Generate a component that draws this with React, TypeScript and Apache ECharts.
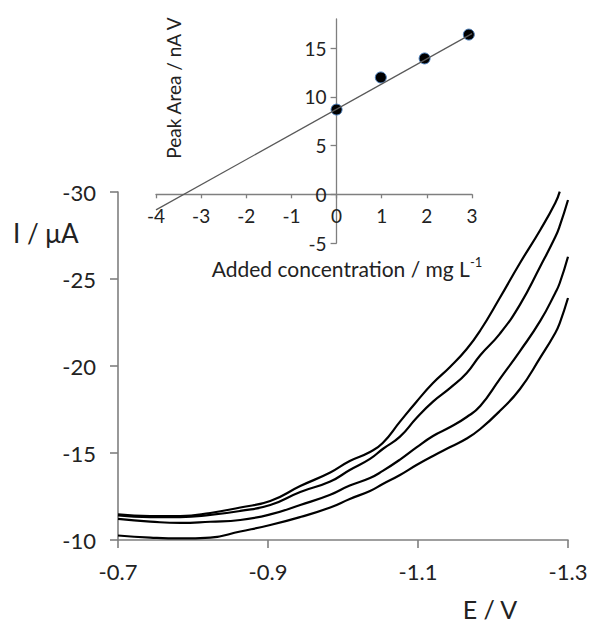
import React, { useEffect, useRef } from "react";
import * as echarts from "echarts";

// ---- Main voltammograms (E in V, I in µA) ----
const E_VALUES = [-0.700, -0.743, -0.783, -0.823, -0.863, -0.903, -0.943, -0.983, -1.009, -1.036, -1.053, -1.076, -1.098, -1.120, -1.143, -1.165, -1.183, -1.209, -1.236, -1.263, -1.283, -1.289, -1.300];
const CURVE_1 = [-11.47, -11.38, -11.38, -11.55, -11.87, -12.24, -13.10, -13.88, -14.54, -15.06, -15.57, -16.80, -17.95, -19.02, -19.96, -20.98, -22.04, -23.91, -25.92, -27.82, -29.37, -30.02, null];
const CURVE_2 = [-11.41, -11.32, -11.32, -11.44, -11.67, -12.01, -12.76, -13.36, -14.02, -14.66, -15.23, -15.94, -17.01, -17.95, -18.74, -19.60, -20.62, -21.85, -23.53, -25.72, -27.41, -28.05, -29.54];
const CURVE_3 = [-11.21, -11.06, -10.98, -11.05, -11.15, -11.47, -12.01, -12.60, -13.13, -13.56, -13.97, -14.62, -15.32, -15.98, -16.49, -17.07, -17.70, -19.25, -20.86, -22.59, -24.20, -24.77, -26.28];
const CURVE_4 = [-10.26, -10.14, -10.09, -10.14, -10.49, -10.86, -11.32, -11.87, -12.36, -12.82, -13.22, -13.74, -14.31, -14.83, -15.34, -15.83, -16.38, -17.41, -18.68, -20.48, -21.90, -22.47, -23.91];
const E_TICKS = [-1.3, -1.1, -0.9, -0.7];

// ---- Inset: standard addition ----
const ADDED_CONC = [0, 0.98, 1.95, 2.93];
const PEAK_AREA = [8.7, 12.0, 13.95, 16.4];
const FIT_X = [-4, 3];
const FIT_Y = [-1.6, 16.5];
const INSET_Y_TICKS = [-5, 0, 5, 10, 15];

const FONT = 'Lato, "Open Sans", sans-serif';
const AXIS_GRAY = "#7f7f7f";
const TEXT = "#222";

// inset layout
const INSET = { left: 156, top: 19, width: 316, height: 224 };
const INSET_X_RANGE = [-4, 3];
const INSET_Y_RANGE = [-5, 18];

function pairs(xs: number[], ys: (number | null)[]) {
  const out: any[] = [];
  xs.forEach((x, i) => {
    if (ys[i] !== null && ys[i] !== undefined) out.push([x, ys[i]]);
  });
  return out;
}

export default function App() {
  const ref = useRef<HTMLDivElement>(null);
  useEffect(() => {
    if (!ref.current) return;
    const chart = echarts.init(ref.current, undefined, { renderer: "svg" });
    const curves = [CURVE_1, CURVE_2, CURVE_3, CURVE_4];
    // put the inset axes through the origin (axis offset from the grid edges)
    const xAxisOffset = -INSET.height * (0 - INSET_Y_RANGE[0]) / (INSET_Y_RANGE[1] - INSET_Y_RANGE[0]);
    const yAxisOffset = -INSET.width * (0 - INSET_X_RANGE[0]) / (INSET_X_RANGE[1] - INSET_X_RANGE[0]);
    const option: any = {
      animation: false,
      textStyle: { fontFamily: FONT },
      grid: [
        { left: 118, top: 192, right: 23, bottom: 85 },
        { ...INSET },
      ],
      xAxis: [
        {
          gridIndex: 0,
          type: "value",
          inverse: true,
          min: -1.3,
          max: -0.7,
          axisLine: { show: true, onZero: false, lineStyle: { color: AXIS_GRAY, width: 1.6 } },
          axisTick: { show: true, length: 8, customValues: E_TICKS, lineStyle: { color: AXIS_GRAY, width: 1.6 } },
          axisLabel: {
            customValues: E_TICKS,
            formatter: (v: number) => v.toFixed(1),
            fontSize: 22,
            color: TEXT,
            margin: 20,
            fontFamily: FONT,
          },
          splitLine: { show: false },
        },
        {
          gridIndex: 1,
          type: "value",
          position: "bottom",
          offset: xAxisOffset,
          min: INSET_X_RANGE[0],
          max: INSET_X_RANGE[1],
          interval: 1,
          axisLine: { show: true, onZero: false, lineStyle: { color: AXIS_GRAY, width: 1.3 } },
          axisTick: { show: true, length: 4, lineStyle: { color: AXIS_GRAY, width: 1.3 } },
          axisLabel: { fontSize: 19, color: TEXT, margin: 12, fontFamily: FONT },
          splitLine: { show: false },
        },
      ],
      yAxis: [
        {
          gridIndex: 0,
          type: "value",
          inverse: true,
          min: -30,
          max: -10,
          interval: 5,
          axisLine: { show: true, onZero: false, lineStyle: { color: AXIS_GRAY, width: 1.6 } },
          axisTick: { show: true, length: 8, lineStyle: { color: AXIS_GRAY, width: 1.6 } },
          axisLabel: { fontSize: 22, color: TEXT, margin: 22, fontFamily: FONT },
          splitLine: { show: false },
        },
        {
          gridIndex: 1,
          type: "value",
          position: "left",
          offset: yAxisOffset,
          min: INSET_Y_RANGE[0],
          max: INSET_Y_RANGE[1],
          interval: 5,
          axisLine: { show: true, onZero: false, lineStyle: { color: AXIS_GRAY, width: 1.3 } },
          axisTick: { show: true, length: 6, customValues: INSET_Y_TICKS, lineStyle: { color: AXIS_GRAY, width: 1.3 } },
          axisLabel: { customValues: INSET_Y_TICKS, fontSize: 19, color: TEXT, margin: 10, fontFamily: FONT },
          splitLine: { show: false },
        },
      ],
      series: [
        ...curves.map((c) => ({
          type: "line",
          xAxisIndex: 0,
          yAxisIndex: 0,
          data: pairs(E_VALUES, c),
          showSymbol: false,
          smooth: 0.5,
          lineStyle: { color: "#000", width: 2.2 },
          silent: true,
        })),
        {
          type: "line",
          xAxisIndex: 1,
          yAxisIndex: 1,
          data: pairs(FIT_X, FIT_Y),
          showSymbol: false,
          lineStyle: { color: "#595959", width: 1.2 },
          silent: true,
        },
        {
          type: "scatter",
          xAxisIndex: 1,
          yAxisIndex: 1,
          data: pairs(ADDED_CONC, PEAK_AREA),
          symbolSize: 11,
          itemStyle: { color: "#000", borderColor: "#4f81bd", borderWidth: 1, opacity: 1 },
          silent: true,
        },
      ],
      graphic: [
        {
          type: "text",
          x: 13,
          y: 233,
          style: { text: "I / μA", fontSize: 26, fill: TEXT, fontFamily: FONT, align: "left", verticalAlign: "middle" },
        },
        {
          type: "text",
          x: 490,
          y: 609,
          style: { text: "E / V", fontSize: 25, fill: TEXT, fontFamily: FONT, align: "center", verticalAlign: "middle" },
        },
        {
          type: "text",
          x: 173,
          y: 88,
          rotation: Math.PI / 2,
          style: { text: "Peak Area / nA V", fontSize: 19, fill: TEXT, fontFamily: FONT, align: "center", verticalAlign: "middle" },
        },
        {
          type: "text",
          x: 347,
          y: 268,
          style: {
            text: "{a|Added concentration / mg L}{s|-1}",
            align: "center",
            verticalAlign: "middle",
            rich: {
              a: { fontSize: 21, fill: TEXT, fontFamily: FONT, lineHeight: 26 },
              s: { fontSize: 13, fill: TEXT, fontFamily: FONT, lineHeight: 15, verticalAlign: "top" },
            },
          },
        },
      ],
    };
    chart.setOption(option);
    return () => chart.dispose();
  }, []);
  return (
    <div
      ref={ref}
      style={{ position: "fixed", left: 0, top: 0, width: 591, height: 625, background: "#fff" }}
    />
  );
}
